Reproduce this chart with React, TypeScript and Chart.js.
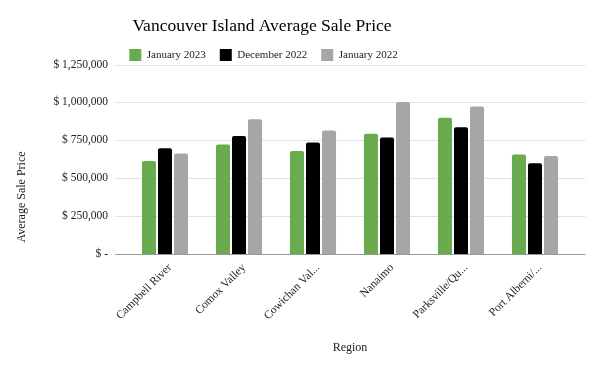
import React, { useEffect, useRef } from "react";
import { Chart, registerables } from "chart.js";

Chart.register(...registerables);

const categories = [
  "Campbell River",
  "Comox Valley",
  "Cowichan Val...",
  "Nanaimo",
  "Parksville/Qu...",
  "Port Alberni/...",
];
const jan2023 = [613000, 722000, 680000, 793000, 900000, 656000];
const dec2022 = [698000, 779000, 736000, 769000, 836000, 599000];
const jan2022 = [663000, 890000, 815000, 1003000, 973000, 646000];
const yTicks = [0, 250000, 500000, 750000, 1000000, 1250000];

const FONT = "'Liberation Serif', 'DejaVu Serif', serif";

function fmt(v: number): string {
  if (v === 0) return "$ -";
  return "$ " + v.toLocaleString("en-US");
}

const layoutPlugin = {
  id: "layoutShift",
  afterLayout(chart: any) {
    const t = chart.titleBlock;
    if (t) {
      t.left = 0;
      t.right = 524;
    }
    const l = chart.legend;
    if (l) {
      const h = l.bottom - l.top;
      l.left = 0;
      l.right = 527;
      l.top = 35;
      l.bottom = 35 + h;
    }
  },
};

const gridPlugin = {
  id: "extGrid",
  beforeDatasetsDraw(chart: any) {
    const { ctx, chartArea } = chart;
    const y = chart.scales.y;
    const x0 = chartArea.left - 13;
    const x1 = chartArea.right + 13.5;
    ctx.save();
    yTicks.forEach((v) => {
      const py = Math.round(y.getPixelForValue(v)) + 0.5;
      ctx.beginPath();
      ctx.lineWidth = 1;
      ctx.strokeStyle = v === 0 ? "#9a9a9a" : "#e2e2e2";
      ctx.moveTo(x0, py);
      ctx.lineTo(x1, py);
      ctx.stroke();
    });
    ctx.restore();
  },
  afterDraw(chart: any) {
    const { ctx } = chart;
    ctx.save();
    ctx.translate(22, 197);
    ctx.rotate(-Math.PI / 2);
    ctx.font = `12px ${FONT}`;
    ctx.fillStyle = "#222";
    ctx.textAlign = "center";
    ctx.textBaseline = "middle";
    ctx.fillText("Average Sale Price", 0, 0);
    ctx.restore();
  },
};

export default function App() {
  const ref = useRef<HTMLCanvasElement | null>(null);

  useEffect(() => {
    document.body.style.margin = "0";
    const canvas = ref.current;
    if (!canvas) return;
    const chart = new Chart(canvas, {
      type: "bar",
      data: {
        labels: categories,
        datasets: [
          {
            label: "January 2023",
            data: jan2023,
            backgroundColor: "#6aab4f",
            borderRadius: { topLeft: 2, topRight: 2 },
            borderSkipped: "bottom",
          },
          {
            label: "December 2022",
            data: dec2022,
            backgroundColor: "#000000",
            borderRadius: { topLeft: 2, topRight: 2 },
            borderSkipped: "bottom",
          },
          {
            label: "January 2022",
            data: jan2022,
            backgroundColor: "#a6a6a6",
            borderRadius: { topLeft: 2, topRight: 2 },
            borderSkipped: "bottom",
          },
        ],
      },
      options: {
        animation: false,
        responsive: false,
        maintainAspectRatio: false,
        layout: { padding: { left: 0, right: 28, top: 0, bottom: 0 } },
        datasets: {
          bar: { categoryPercentage: 0.65, barPercentage: 0.875 },
        },
        plugins: {
          title: {
            display: true,
            text: "Vancouver Island Average Sale Price",
            color: "#000",
            font: { family: FONT, size: 17.5, weight: "normal" },
            padding: { top: 16, bottom: -8.4 },
          },
          legend: {
            display: true,
            labels: {
              boxWidth: 12,
              boxHeight: 12,
              padding: 14,
              color: "#222",
              font: { family: FONT, size: 11 },
            },
          },
          tooltip: { enabled: false },
        },
        scales: {
          x: {
            grid: { display: false, drawTicks: false },
            border: { display: false },
            ticks: {
              minRotation: 45,
              maxRotation: 45,
              autoSkip: false,
              padding: 7,
              labelOffset: 5,
              color: "#222",
              font: { family: FONT, size: 11.5 },
            },
            title: {
              display: true,
              text: "Region",
              color: "#222",
              font: { family: FONT, size: 12 },
              padding: { top: 0, bottom: 13 },
            },
            afterFit: (s: any) => {
              s.height = 114;
            },
          },
          y: {
            min: 0,
            max: 1250000,
            grid: { display: false, drawTicks: false },
            border: { display: false },
            afterBuildTicks: (s: any) => {
              s.ticks = yTicks.map((v) => ({ value: v }));
            },
            ticks: {
              padding: 20,
              color: "#222",
              font: { family: FONT, size: 11.5 },
              callback: (v: any) => fmt(Number(v)),
            },
            afterFit: (s: any) => {
              s.width = 128;
            },
          },
        },
      },
      plugins: [layoutPlugin, gridPlugin],
    });
    return () => chart.destroy();
  }, []);

  return (
    <div style={{ position: "absolute", left: 0, top: 0, width: 600, height: 368 }}>
      <canvas ref={ref} width={600} height={368} style={{ width: 600, height: 368 }} />
    </div>
  );
}
